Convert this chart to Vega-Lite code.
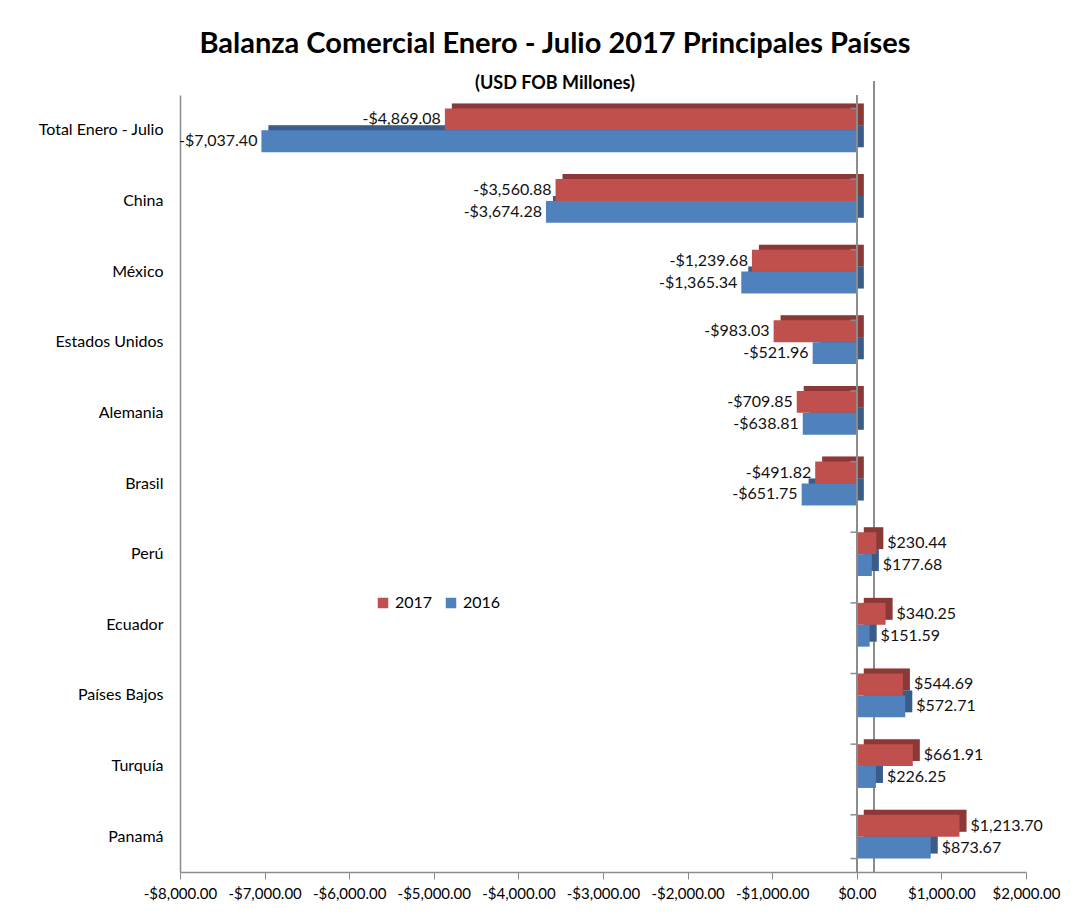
{
  "$schema": "https://vega.github.io/schema/vega-lite/v6.json",
  "width": 846,
  "height": 777,
  "autosize": {"type": "none"},
  "padding": {"left": 180, "top": 95, "right": 65, "bottom": 46},
  "background": "white",
  "config": {
    "font": "Lato",
    "locale": {"number": {"decimal": ".", "thousands": ",", "grouping": [3], "currency": ["$", ""], "minus": "-"}},
    "view": {"stroke": null},
    "axis": {"labelFont": "Lato", "labelFontSize": 16, "labelColor": "#000", "domainColor": "#8c8c8c", "tickColor": "#8c8c8c", "domainWidth": 1.5, "grid": false}
  },
  "title": {
    "text": "Balanza Comercial Enero - Julio 2017 Principales Países",
    "subtitle": "(USD FOB Millones)",
    "fontSize": 29,
    "fontWeight": "bold",
    "color": "#000",
    "subtitleFontSize": 18,
    "subtitleFontWeight": "bold",
    "subtitleColor": "#000",
    "subtitlePadding": 16,
    "anchor": "middle",
    "dx": -48,
    "offset": -13
  },
  "data": {
    "values": [
      {"pais": "Total Enero - Julio", "anio": "2017", "value": -4869.08},
      {"pais": "Total Enero - Julio", "anio": "2016", "value": -7037.40},
      {"pais": "China", "anio": "2017", "value": -3560.88},
      {"pais": "China", "anio": "2016", "value": -3674.28},
      {"pais": "México", "anio": "2017", "value": -1239.68},
      {"pais": "México", "anio": "2016", "value": -1365.34},
      {"pais": "Estados Unidos", "anio": "2017", "value": -983.03},
      {"pais": "Estados Unidos", "anio": "2016", "value": -521.96},
      {"pais": "Alemania", "anio": "2017", "value": -709.85},
      {"pais": "Alemania", "anio": "2016", "value": -638.81},
      {"pais": "Brasil", "anio": "2017", "value": -491.82},
      {"pais": "Brasil", "anio": "2016", "value": -651.75},
      {"pais": "Perú", "anio": "2017", "value": 230.44},
      {"pais": "Perú", "anio": "2016", "value": 177.68},
      {"pais": "Ecuador", "anio": "2017", "value": 340.25},
      {"pais": "Ecuador", "anio": "2016", "value": 151.59},
      {"pais": "Países Bajos", "anio": "2017", "value": 544.69},
      {"pais": "Países Bajos", "anio": "2016", "value": 572.71},
      {"pais": "Turquía", "anio": "2017", "value": 661.91},
      {"pais": "Turquía", "anio": "2016", "value": 226.25},
      {"pais": "Panamá", "anio": "2017", "value": 1213.70},
      {"pais": "Panamá", "anio": "2016", "value": 873.67}
    ]
  },
  "encoding": {
    "y": {
      "field": "pais",
      "type": "nominal",
      "sort": ["Total Enero - Julio", "China", "México", "Estados Unidos", "Alemania", "Brasil", "Perú", "Ecuador", "Países Bajos", "Turquía", "Panamá"],
      "scale": {"paddingInner": 0.38, "paddingOuter": 0.19},
      "axis": {"title": null, "ticks": false, "labelPadding": 17}
    },
    "x": {
      "field": "value",
      "type": "quantitative",
      "scale": {"domain": [-8000, 2000], "nice": false},
      "axis": {"values": [-8000, -7000, -6000, -5000, -4000, -3000, -2000, -1000, 0, 1000, 2000], "format": "$,.2f", "title": null, "labelPadding": 7, "tickSize": 7, "labelOverlap": false, "labelFlush": false, "labelFontSize": 15}
    },
    "color": {
      "field": "anio",
      "type": "nominal",
      "scale": {"domain": ["2017", "2016"], "range": ["#C0504D", "#4F81BD"]},
      "legend": {"orient": "none", "legendX": 195, "legendY": 500, "direction": "horizontal", "title": null, "symbolType": "square", "symbolSize": 110, "labelFontSize": 16, "labelColor": "#000", "columnPadding": 10}
    }
  },
  "layer": [
    {
      "mark": {"type": "rule", "color": "#8c8c8c", "strokeWidth": 1.5, "xOffset": 17, "yOffset": -14},
      "encoding": {"x": {"datum": 0}, "y": null, "color": null}
    },
    {
      "mark": {"type": "bar", "xOffset": 7},
      "encoding": {
        "yOffset": {"field": "anio", "type": "nominal", "sort": ["2017", "2016"], "scale": {"range": [-5, 38.8]}}
      }
    },
    {
      "mark": {"type": "bar", "xOffset": 7, "color": "#000", "opacity": 0.28},
      "encoding": {
        "color": null,
        "yOffset": {"field": "anio", "type": "nominal", "sort": ["2017", "2016"], "scale": {"range": [-5, 38.8]}}
      }
    },
    {
      "mark": {"type": "bar"},
      "encoding": {
        "yOffset": {"field": "anio", "type": "nominal", "sort": ["2017", "2016"]}
      }
    },
    {
      "mark": {"type": "rule", "color": "#8c8c8c", "strokeWidth": 1.5},
      "encoding": {"x": {"datum": 0}, "y": null, "color": null}
    },
    {
      "transform": [{"filter": "datum.anio == '2017'"}],
      "mark": {"type": "rule", "color": "#8c8c8c", "strokeWidth": 1.5},
      "encoding": {
        "x": {"datum": -75},
        "x2": {"datum": 0},
        "y": {"field": "pais", "type": "nominal", "sort": ["Total Enero - Julio", "China", "México", "Estados Unidos", "Alemania", "Brasil", "Perú", "Ecuador", "Países Bajos", "Turquía", "Panamá"], "bandPosition": 0},
        "color": null
      }
    },
    {
      "transform": [{"filter": "datum.anio == '2017' && datum.pais == 'Panamá'"}],
      "mark": {"type": "rule", "color": "#8c8c8c", "strokeWidth": 1.5},
      "encoding": {
        "x": {"datum": -75},
        "x2": {"datum": 0},
        "y": {"field": "pais", "type": "nominal", "sort": ["Total Enero - Julio", "China", "México", "Estados Unidos", "Alemania", "Brasil", "Perú", "Ecuador", "Países Bajos", "Turquía", "Panamá"], "bandPosition": 1},
        "color": null
      }
    },
    {
      "transform": [{"filter": "datum.value < 0"}],
      "mark": {"type": "text", "align": "right", "dx": -4, "fontSize": 16, "color": "#111"},
      "encoding": {
        "color": null,
        "text": {"field": "value", "type": "quantitative", "format": "$,.2f"},
        "yOffset": {"field": "anio", "type": "nominal", "sort": ["2017", "2016"]}
      }
    },
    {
      "transform": [{"filter": "datum.value >= 0"}],
      "mark": {"type": "text", "align": "left", "dx": 11, "fontSize": 16, "color": "#111"},
      "encoding": {
        "color": null,
        "text": {"field": "value", "type": "quantitative", "format": "$,.2f"},
        "yOffset": {"field": "anio", "type": "nominal", "sort": ["2017", "2016"]}
      }
    }
  ],
  "resolve": {"scale": {"yOffset": "independent"}}
}
